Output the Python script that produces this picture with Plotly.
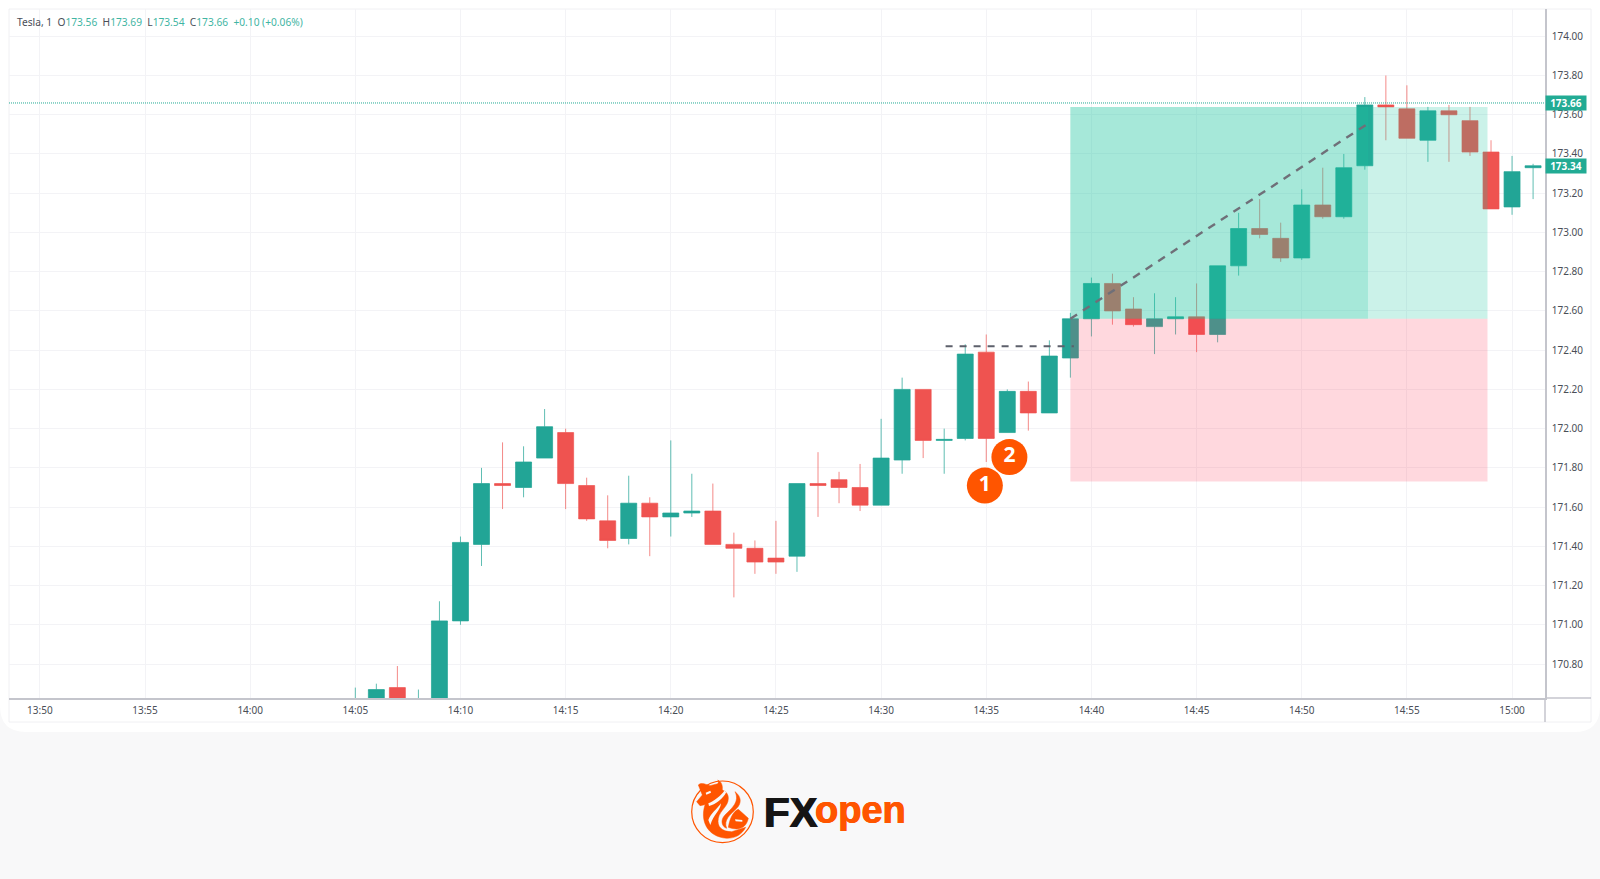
import plotly.graph_objects as go

# 1 minute candles
minutes = ["14:05", "14:06", "14:07", "14:08", "14:09", "14:10", "14:11", "14:12", "14:13", "14:14",
           "14:15", "14:16", "14:17", "14:18", "14:19", "14:20", "14:21", "14:22", "14:23", "14:24",
           "14:25", "14:26", "14:27", "14:28", "14:29", "14:30", "14:31", "14:32", "14:33", "14:34",
           "14:35", "14:36", "14:37", "14:38", "14:39", "14:40", "14:41", "14:42", "14:43", "14:44",
           "14:45", "14:46", "14:47", "14:48", "14:49", "14:50", "14:51", "14:52", "14:53", "14:54",
           "14:55", "14:56", "14:57", "14:58", "14:59", "15:00", "15:01"]
opens = [170.50, 170.55, 170.68, 170.45, 170.50, 171.02, 171.41, 171.72, 171.70, 171.85,
         171.98, 171.71, 171.53, 171.44, 171.62, 171.55, 171.57, 171.58, 171.41, 171.39,
         171.34, 171.35, 171.72, 171.74, 171.70, 171.61, 171.84, 172.20, 171.94, 171.95,
         172.39, 171.98, 172.19, 172.08, 172.36, 172.56, 172.74, 172.61, 172.52, 172.56,
         172.57, 172.48, 172.83, 173.02, 172.97, 172.87, 173.14, 173.08, 173.34, 173.65,
         173.63, 173.47, 173.62, 173.57, 173.41, 173.13, 173.33]
highs = [170.68, 170.70, 170.79, 170.67, 171.12, 171.45, 171.80, 171.93, 171.91, 172.10,
         172.00, 171.75, 171.66, 171.76, 171.65, 171.94, 171.77, 171.72, 171.47, 171.43,
         171.53, 171.72, 171.88, 171.78, 171.82, 172.05, 172.26, 172.20, 172.00, 172.43,
         172.48, 172.20, 172.24, 172.45, 172.59, 172.77, 172.79, 172.67, 172.69, 172.67,
         172.74, 172.83, 173.10, 173.17, 173.05, 173.22, 173.33, 173.40, 173.69, 173.80,
         173.75, 173.64, 173.65, 173.64, 173.47, 173.39, 173.35]
lows = [170.40, 170.50, 170.50, 170.40, 170.45, 171.00, 171.30, 171.59, 171.65, 171.85,
        171.59, 171.53, 171.39, 171.41, 171.35, 171.45, 171.55, 171.41, 171.14, 171.26,
        171.26, 171.27, 171.55, 171.62, 171.58, 171.61, 171.77, 171.85, 171.77, 171.94,
        171.83, 171.98, 171.99, 172.08, 172.26, 172.47, 172.53, 172.52, 172.38, 172.48,
        172.39, 172.44, 172.78, 172.97, 172.85, 172.86, 173.07, 173.07, 173.32, 173.47,
        173.48, 173.36, 173.36, 173.39, 173.12, 173.09, 173.17]
closes = [170.60, 170.67, 170.55, 170.60, 171.02, 171.42, 171.72, 171.71, 171.83, 172.01,
          171.72, 171.54, 171.43, 171.62, 171.55, 171.57, 171.58, 171.41, 171.39, 171.32,
          171.32, 171.72, 171.71, 171.70, 171.61, 171.85, 172.20, 171.94, 171.945, 172.38,
          171.95, 172.19, 172.08, 172.37, 172.56, 172.74, 172.60, 172.53, 172.56, 172.57,
          172.48, 172.83, 173.02, 172.99, 172.87, 173.14, 173.08, 173.33, 173.65, 173.64,
          173.48, 173.62, 173.60, 173.41, 173.12, 173.31, 173.34]

x_ticks = ["13:50", "13:55", "14:00", "14:05", "14:10", "14:15", "14:20", "14:25",
           "14:30", "14:35", "14:40", "14:45", "14:50", "14:55", "15:00"]
y_ticks = [170.8, 171.0, 171.2, 171.4, 171.6, 171.8, 172.0, 172.2, 172.4, 172.6,
           172.8, 173.0, 173.2, 173.4, 173.6, 173.8, 174.0]
last_price = 173.66
prev_price = 173.34

# long position tool
entry = 172.56
target = 173.64
stop = 171.73
pos_start = "14:39:00"
pos_mid = "14:53:09"
pos_end = "14:58:50"

DAY = "2024-03-01 "
GREEN = "#22a596"
RED = "#ef5350"
ORANGE = "#ff5500"
TEXT = "#4a4e57"
AXIS = "#c4c5cc"
FONT = "Noto Sans, sans-serif"
W, H = 1600, 879


def t(s):
    return DAY + (s if s.count(":") == 2 else s + ":00")


def px_x(v):
    return (v - 9) / (1545 - 9)


def px_y(v):
    return (698 - v) / (698 - 9)


def logo_path(cmds):
    # cmds in 3x crop coordinates of the logo mark
    out = []
    for c in cmds:
        if isinstance(c, str):
            out.append(c)
        else:
            out.append(f"{px_x(685 + c[0] / 3):.5f},{px_y(770 + c[1] / 3):.5f}")
    return " ".join(out)


def rounded_card():
    r = 26
    b = 732
    return (f"M {px_x(0):.5f},{px_y(0):.5f} L {px_x(W):.5f},{px_y(0):.5f} L {px_x(W):.5f},{px_y(b - r):.5f} "
            f"Q {px_x(W):.5f},{px_y(b):.5f} {px_x(W - r):.5f},{px_y(b):.5f} L {px_x(r):.5f},{px_y(b):.5f} "
            f"Q {px_x(0):.5f},{px_y(b):.5f} {px_x(0):.5f},{px_y(b - r):.5f} Z")


fig = go.Figure()

fig.add_trace(go.Candlestick(
    x=[t(m) for m in minutes], open=opens, high=highs, low=lows, close=closes,
    increasing=dict(fillcolor=GREEN, line=dict(color="rgba(34,165,150,0.72)", width=1)),
    decreasing=dict(fillcolor=RED, line=dict(color="rgba(239,83,80,0.68)", width=1)),
    whiskerwidth=0, showlegend=False, hoverinfo="skip",
))

# numbered markers
fig.add_trace(go.Scatter(
    x=[t("14:36:06"), t("14:34:56")], y=[171.855, 171.71],
    mode="markers+text", text=["<b>2</b>", "<b>1</b>"], textposition="middle center",
    marker=dict(size=36, color=ORANGE, line=dict(width=0)),
    textfont=dict(family="Open Sans, sans-serif", size=21, color="white"),
    showlegend=False, hoverinfo="skip",
))

shapes = [
    # page card and chart frame
    dict(type="path", path=rounded_card(), xref="paper", yref="paper", fillcolor="white",
         line=dict(width=0), layer="below"),
    dict(type="rect", xref="paper", yref="paper", x0=px_x(9), x1=px_x(1591), y0=px_y(9), y1=px_y(722),
         line=dict(color="#f0f0f3", width=1), layer="below"),
    dict(type="line", xref="paper", yref="paper", x0=px_x(1545), x1=px_x(1591), y0=0, y1=0,
         line=dict(color=AXIS, width=1.5)),
    dict(type="line", xref="paper", yref="paper", x0=1, x1=1, y0=px_y(698), y1=px_y(722),
         line=dict(color=AXIS, width=1.5)),
    # position tool
    dict(type="rect", xref="x", yref="y", x0=t(pos_start), x1=t(pos_end), y0=entry, y1=target,
         fillcolor="rgba(30,200,160,0.23)", line=dict(width=0), layer="above"),
    dict(type="rect", xref="x", yref="y", x0=t(pos_start), x1=t(pos_mid), y0=entry, y1=target,
         fillcolor="rgba(30,200,160,0.21)", line=dict(width=0), layer="above"),
    dict(type="rect", xref="x", yref="y", x0=t(pos_start), x1=t(pos_end), y0=stop, y1=entry,
         fillcolor="rgba(255,60,90,0.2)", line=dict(width=0), layer="above"),
    dict(type="line", xref="x", yref="y", x0=t(pos_start), x1=t(pos_mid), y0=entry, y1=173.555,
         line=dict(color="#6f6f78", width=2.4, dash="8px,7px"), layer="above"),
    dict(type="line", xref="x", yref="y", x0=t("14:33:04"), x1=t("14:39:10"), y0=172.42, y1=172.42,
         line=dict(color="#5d606b", width=2, dash="7px,7px"), layer="above"),
    # last price line
    dict(type="line", xref="paper", yref="y", x0=0, x1=1, y0=last_price, y1=last_price,
         line=dict(color="#22ab94", width=1, dash="1px,1px"), layer="above"),
    # logo mark
    dict(type="circle", xref="paper", yref="paper", x0=px_x(691.7), x1=px_x(753.3), y0=px_y(781), y1=px_y(842.6),
         line=dict(color=ORANGE, width=1.2)),
]

logo_shapes = [
    ["M", (60, 105), "C", (45, 150), (65, 200), (125, 205), "C", (150, 205), (170, 195), (182, 172),
     "L", (140, 185), "C", (110, 185), (95, 170), (100, 145), "C", (105, 120), (130, 110), (130, 85),
     "C", (130, 70), (120, 62), (110, 60), "L", (70, 95), "Z"],
    ["M", (150, 65), "C", (165, 95), (140, 115), (120, 135), "C", (105, 150), (110, 170), (125, 175),
     "C", (115, 150), (135, 135), (155, 115), "C", (170, 100), (170, 80), (150, 65), "Z"],
    ["M", (130, 172), "C", (135, 140), (148, 122), (160, 118), "L", (190, 145), "C", (185, 170), (165, 185), (130, 172), "Z"],
    ["M", (40, 45), "C", (50, 35), (65, 45), (75, 47), "L", (95, 42), "C", (103, 40), (100, 32), (98, 30),
     "C", (115, 38), (112, 55), (112, 62), "L", (80, 100), "L", (45, 107), "L", (35, 95), "L", (52, 75), "Z"],
]
for cmds in logo_shapes:
    shapes.append(dict(type="path", path=logo_path(cmds), xref="paper", yref="paper",
                       fillcolor=ORANGE, line=dict(color=ORANGE, width=0.5)))
# white cuts in the mark
for cmds in [
    ["M", (70, 100), "C", (85, 95), (110, 75), (118, 62), "L", (124, 66), "C", (115, 85), (90, 105), (72, 108), "Z"],
    ["M", (70, 150), "C", (78, 130), (95, 118), (108, 100), "C", (106, 122), (85, 135), (76, 165), "Z"],
    ["M", (62, 68), "L", (76, 62), "L", (78, 68), "L", (64, 74), "Z"],
    ["M", (150, 148), "L", (172, 150), "L", (172, 155), "L", (152, 154), "Z"],
]:
    shapes.append(dict(type="path", path=logo_path(cmds), xref="paper", yref="paper",
                       fillcolor="#f8f8f9", line=dict(width=0)))

teal = "#3fb5a3"
dark = "#4a4e57"
header = (f'<span style="color:{dark}">Tesla, 1 &nbsp;O</span>173.56 &nbsp;<span style="color:{dark}">H</span>173.69'
          f' &nbsp;<span style="color:{dark}">L</span>173.54 &nbsp;<span style="color:{dark}">C</span>173.66 &nbsp;+0.10 (+0.06%)')

annotations = [
    dict(x=px_x(14.5), y=px_y(21.5), xref="paper", yref="paper", text=header, showarrow=False, xanchor="left",
         yanchor="middle", font=dict(family=FONT, size=10.2, color=teal)),
    dict(x=1, y=last_price, xref="paper", yref="y", text=f"<b>{last_price:.2f}</b>", showarrow=False, xanchor="left",
         width=40, height=14, bgcolor="#22ab94", font=dict(family=FONT, size=10, color="white"), borderpad=0),
    dict(x=1, y=prev_price, xref="paper", yref="y", text=f"<b>{prev_price:.2f}</b>", showarrow=False, xanchor="left",
         width=40, height=14, bgcolor="#22ab94", font=dict(family=FONT, size=10, color="white"), borderpad=0),
    dict(x=px_x(765), y=px_y(812), xref="paper", yref="paper", text="<b>FX</b>", showarrow=False, xanchor="left",
         yanchor="middle", xshift=-3,
         font=dict(family="Liberation Sans, sans-serif", size=42, color="#151515",
                   shadow="0.7px 0 0 #151515,-0.7px 0 0 #151515")),
    dict(x=px_x(813), y=px_y(810), xref="paper", yref="paper", text="<b>open</b>", showarrow=False, xanchor="left",
         yanchor="middle",
         font=dict(family="Liberation Sans, sans-serif", size=38, color=ORANGE,
                   shadow="0.5px 0 0 #ff5500,-0.5px 0 0 #ff5500")),
]

fig.update_layout(
    width=W, height=H,
    margin=dict(l=9, r=55, t=9, b=181),
    paper_bgcolor="#f8f8f9",
    plot_bgcolor="rgba(0,0,0,0)",
    boxgap=0.24, boxgroupgap=0,
    showlegend=False,
    shapes=shapes,
    annotations=annotations,
    font=dict(family=FONT, size=10, color=TEXT),
    xaxis=dict(
        type="date",
        range=[t("13:48:32"), t("15:01:34")],
        tickvals=[t(v) for v in x_ticks], ticktext=x_ticks, tickangle=0,
        rangeslider=dict(visible=False),
        showgrid=True, gridcolor="#f3f3f6", gridwidth=1, zeroline=False,
        showline=True, linecolor=AXIS, linewidth=1.5, ticks="outside", ticklen=2, tickcolor="rgba(0,0,0,0)",
        tickfont=dict(family=FONT, size=10, color=TEXT),
    ),
    yaxis=dict(
        side="right",
        range=[170.627, 174.139],
        tickvals=y_ticks, ticktext=[f"{v:.2f}" for v in y_ticks],
        showgrid=True, gridcolor="#f3f3f6", gridwidth=1, zeroline=False,
        showline=True, linecolor=AXIS, linewidth=1.5, ticks="outside", ticklen=3, tickcolor="rgba(0,0,0,0)",
        tickfont=dict(family=FONT, size=10, color=TEXT),
    ),
)

fig.write_html("out.html", config={"displayModeBar": False},
               post_script="document.body.style.margin='0';document.body.style.overflow='hidden';")
